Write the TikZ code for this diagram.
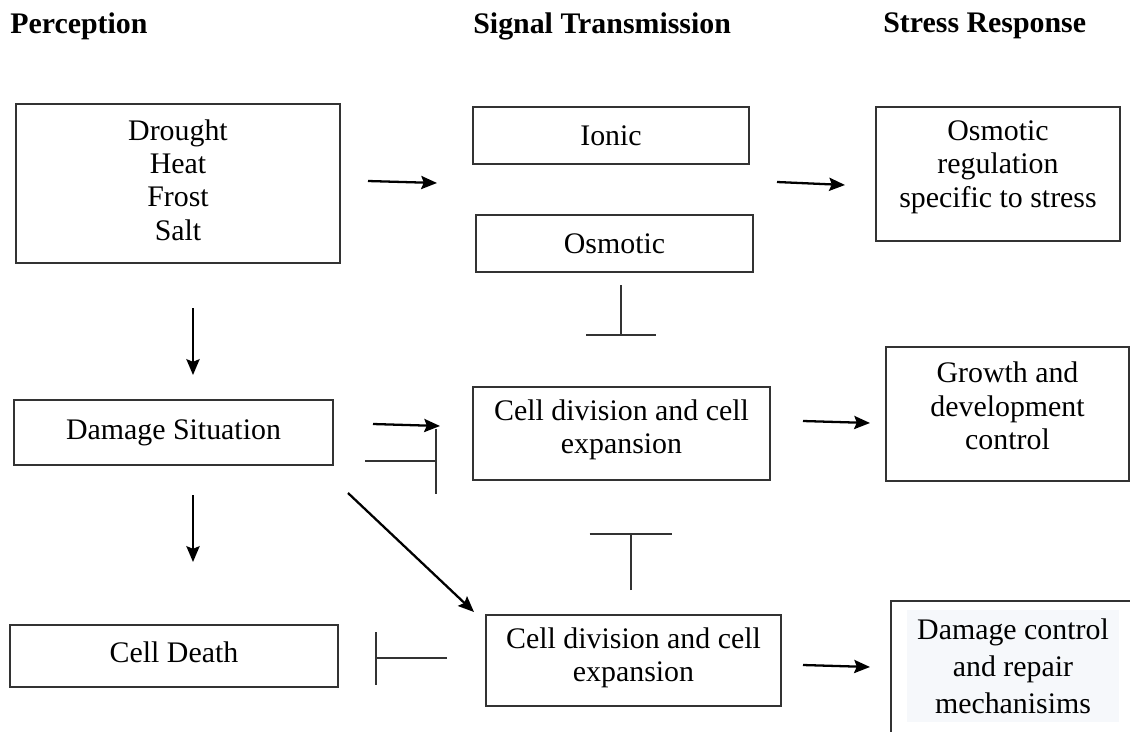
\documentclass[tikz,border=0pt]{standalone}
\usepackage{fontspec}
\setmainfont{Liberation Serif}
\usepackage{tikz}
\usetikzlibrary{arrows.meta, positioning}

\definecolor{paleback}{RGB}{246,248,251}

\begin{document}
\begin{tikzpicture}[x=0.02cm, y=-0.02cm, >={Stealth[length=9pt, width=7.5pt, inset=1.5pt]},
		box/.style={rectangle, draw=black!80, line width=1pt, inner sep=0pt, align=center, font=\fontsize{17}{19}\selectfont},
		txt/.style={inner sep=0pt, align=center, font=\fontsize{17}{19}\selectfont},
		head/.style={anchor=west, inner sep=0pt, font=\fontsize{17}{19}\selectfont\bfseries},
		arr/.style={->, line width=1.3pt, color=black},
		blocks/.style={line width=1.1pt, color=black!80}]
		
		\useasboundingbox (0,0) rectangle (1130,731);
		\clip (0,0) rectangle (1130,731);
		
		% column headers
		\node[head] (hperc) at (10,26) {Perception};
		\node[head] (hsig) at (473,26) {Signal Transmission};
		\node[head] (hresp) at (883,26) {Stress Response};
		
		% perception
		\node[box, minimum width=6.48cm, minimum height=3.18cm] (stressors) at (178,183.5) {};
		\node[txt] (stressorstxt) at (178,180) {Drought\\Heat\\Frost\\Salt};
		\node[box, minimum width=6.38cm, minimum height=1.3cm] (damage) at (173.5,432.5) {Damage Situation};
		\node[box, minimum width=6.56cm, minimum height=1.24cm] (death) at (174,656) {};
		\node[txt] (deathtxt) at (174,652) {Cell Death};
		
		% signal transmission
		\node[box, minimum width=5.52cm, minimum height=1.14cm] (ionic) at (611,135.5) {Ionic};
		\node[box, minimum width=5.54cm, minimum height=1.14cm] (osmotic) at (614.5,243.5) {Osmotic};
		\node[box, minimum width=5.94cm, minimum height=1.86cm] (divA) at (621.5,433.5) {};
		\node[txt] (divAtxt) at (621.5,430) {Cell division and cell\\expansion};
		\node[box, minimum width=5.9cm, minimum height=1.82cm] (divB) at (633.5,660.5) {};
		\node[txt] (divBtxt) at (633.5,658) {Cell division and cell\\expansion};
		
		% stress response
		\node[box, minimum width=4.88cm, minimum height=2.68cm] (osmreg) at (998,174) {};
		\node[txt] (osmregtxt) at (998,167) {Osmotic\\regulation\\specific to stress};
		\node[box, minimum width=4.86cm, minimum height=2.68cm] (growth) at (1007.5,414) {};
		\node[txt] (growthtxt) at (1007.5,406) {Growth and\\development\\control};
		\node[box, minimum width=5.2cm, minimum height=3cm] (repair) at (1021,676) {};
		\node[txt, fill=paleback, minimum width=4.24cm, minimum height=2.24cm, font=\fontsize{17}{21}\selectfont] (repairtxt) at (1013,666) {Damage control\\and repair\\mechanisims};
		
		% connector ends
		\coordinate (p1) at (368,181);  \coordinate (p2) at (437,183);
		\coordinate (q1) at (777,182);  \coordinate (q2) at (845,185);
		\coordinate (d1) at (193,308);  \coordinate (d2) at (193,375);
		\coordinate (o1) at (621,285);  \coordinate (o2) at (621,336);
		\coordinate (s1) at (373,424);  \coordinate (s2) at (440,426);
		\coordinate (b1) at (365,461);  \coordinate (b2) at (437,461);
		\coordinate (g1) at (803,421);  \coordinate (g2) at (870,423);
		\coordinate (e1) at (193,495);  \coordinate (e2) at (193,562);
		\coordinate (x1) at (348,493);  \coordinate (x2) at (474,612);
		\coordinate (u1) at (631,590);  \coordinate (u2) at (631,533);
		\coordinate (k1) at (447,658);  \coordinate (k2) at (375,658);
		\coordinate (r1) at (803,665);  \coordinate (r2) at (870,667);
		
		\draw[arr] (p1) -- (p2);
		\draw[arr] (q1) -- (q2);
		\draw[arr] (d1) -- (d2);
		\draw[arr] (s1) -- (s2);
		\draw[arr] (g1) -- (g2);
		\draw[arr] (e1) -- (e2);
		\draw[arr] (x1) -- (x2);
		\draw[arr] (r1) -- (r2);
		
		\draw[blocks, -{Bar[width=1.4cm]}] (o1) -- (o2);
		\draw[blocks, -{Bar[width=1.3cm]}] (b1) -- (b2);
		\draw[blocks, -{Bar[width=1.66cm]}] (u1) -- (u2);
		\draw[blocks, -{Bar[width=1.06cm]}] (k1) -- (k2);
	\end{tikzpicture}
\end{document}
